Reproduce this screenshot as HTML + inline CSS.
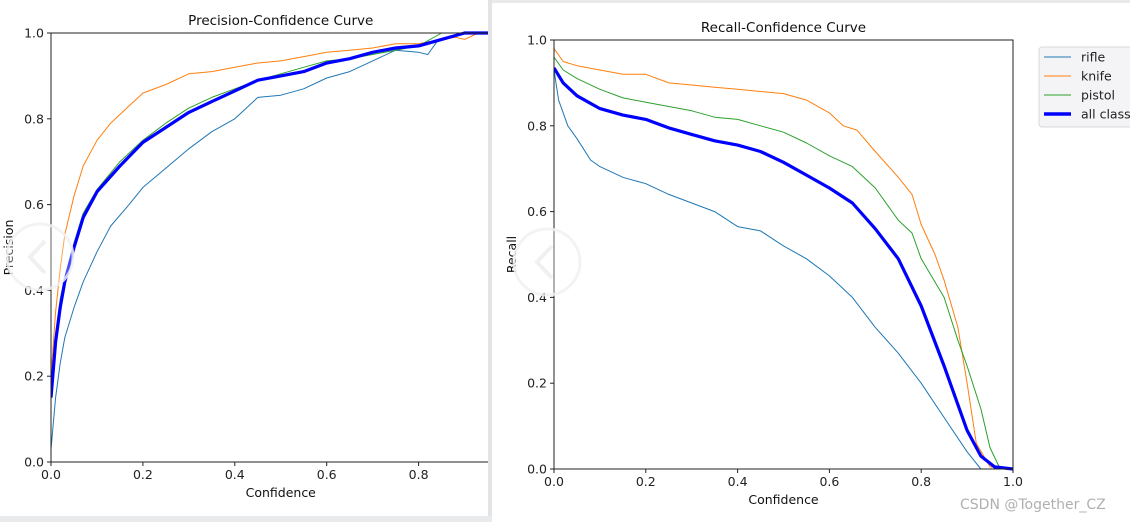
<!DOCTYPE html>
<html><head><meta charset="utf-8"><style>
body{margin:0;width:1130px;height:522px;overflow:hidden;background:#e9eaec;font-family:"DejaVu Sans","Liberation Sans",sans-serif}
svg{position:absolute;left:0;top:0}
</style></head><body>
<svg id="c" width="1130" height="522"></svg>
<script>
const confP=[0,0.01,0.02,0.03,0.05,0.07,0.1,0.15,0.2,0.25,0.3,0.35,0.4,0.45,0.5,0.55,0.6,0.65,0.7,0.75,0.8,0.85,0.9,1];
const precAll=[0.15,0.28,0.36,0.42,0.5,0.57,0.63,0.69,0.745,0.78,0.815,0.84,0.865,0.89,0.9,0.91,0.93,0.94,0.955,0.965,0.97,0.985,1,1];
const precPistol=[0.15,0.3,0.38,0.43,0.51,0.58,0.635,0.7,0.75,0.79,0.825,0.85,0.87,0.89,0.905,0.92,0.935,0.94,0.95,0.96,0.97,1,1,1];
const confK=[0,0.01,0.02,0.03,0.05,0.07,0.1,0.13,0.17,0.2,0.25,0.3,0.35,0.4,0.45,0.5,0.55,0.6,0.65,0.7,0.75,0.8,0.85,0.88,0.9,0.93,1];
const precKnife=[0.2,0.35,0.45,0.53,0.62,0.69,0.75,0.79,0.83,0.86,0.88,0.905,0.91,0.92,0.93,0.935,0.945,0.955,0.96,0.965,0.975,0.975,0.985,0.99,0.985,1,1];
const confR=[0,0.01,0.02,0.03,0.05,0.07,0.1,0.13,0.17,0.2,0.25,0.3,0.35,0.4,0.45,0.5,0.55,0.6,0.65,0.7,0.75,0.8,0.82,0.84,0.87,0.9,1];
const precRifle=[0.03,0.15,0.23,0.29,0.36,0.42,0.49,0.55,0.6,0.64,0.685,0.73,0.77,0.8,0.85,0.855,0.87,0.895,0.91,0.935,0.96,0.955,0.95,0.98,0.99,1,1];

const rcRifleX=[0,0.01,0.03,0.05,0.08,0.1,0.15,0.2,0.25,0.3,0.35,0.4,0.45,0.5,0.55,0.6,0.65,0.7,0.75,0.8,0.85,0.9,0.93,1];
const recRifle=[0.93,0.86,0.8,0.77,0.72,0.705,0.68,0.665,0.64,0.62,0.6,0.565,0.555,0.52,0.49,0.45,0.4,0.33,0.27,0.2,0.12,0.04,0,0];
const rcKnifeX=[0,0.02,0.05,0.1,0.15,0.2,0.25,0.3,0.35,0.4,0.45,0.5,0.55,0.6,0.63,0.66,0.7,0.75,0.78,0.8,0.83,0.85,0.88,0.9,0.92,0.95,1];
const recKnife=[0.98,0.95,0.94,0.93,0.92,0.92,0.9,0.895,0.89,0.885,0.88,0.875,0.86,0.83,0.8,0.79,0.74,0.68,0.64,0.57,0.5,0.44,0.33,0.2,0.06,0.005,0];
const rcPistolX=[0,0.02,0.05,0.1,0.15,0.2,0.25,0.3,0.35,0.4,0.45,0.5,0.55,0.6,0.65,0.7,0.75,0.78,0.8,0.85,0.88,0.9,0.93,0.95,0.97,1];
const recPistol=[0.96,0.93,0.91,0.885,0.865,0.855,0.845,0.835,0.82,0.815,0.8,0.785,0.76,0.73,0.705,0.655,0.58,0.55,0.49,0.4,0.3,0.24,0.14,0.05,0.005,0];
const rcAllX=[0,0.02,0.05,0.1,0.15,0.2,0.25,0.3,0.35,0.4,0.45,0.5,0.55,0.6,0.65,0.7,0.75,0.8,0.85,0.9,0.93,0.96,1];
const recAll=[0.935,0.9,0.87,0.84,0.825,0.815,0.795,0.78,0.765,0.755,0.74,0.715,0.685,0.655,0.62,0.56,0.49,0.38,0.24,0.09,0.03,0.005,0];
const ticks=["0.0","0.2","0.4","0.6","0.8","1.0"];

const NS="http://www.w3.org/2000/svg";
const svg=document.getElementById('c');
function el(t,a,p){const e=document.createElementNS(NS,t);for(const k in a)e.setAttribute(k,a[k]);(p||svg).appendChild(e);return e;}
function txt(s,a,p){const e=el('text',a,p);e.textContent=s;return e;}

// panels
const lp=el('rect',{x:0,y:0,width:492,height:516,fill:'#fff'});


const rp=el('rect',{x:492,y:3,width:638,height:519,fill:'#fff'});


el('rect',{x:488,y:0,width:4,height:516,fill:'#e3e4e6'});

function chart(o){
  const g=el('g',{});
  
  
  const X=v=>o.x0+v*(o.x1-o.x0), Y=v=>o.y0-v*(o.y0-o.y1);
  const cp=el('clipPath',{id:o.name+'-clip'},g);
  el('rect',{x:o.x0,y:o.y1-3,width:Math.min(o.x1,o.clipR)-o.x0,height:o.y0-o.y1+6},cp);
  const series=el('g',{'clip-path':'url(#'+o.name+'-clip)'},g);
  o.series.forEach(s=>{
    const d=s.x.map((v,i)=>(i?'L':'M')+X(v).toFixed(1)+','+Y(s.y[i]).toFixed(1)).join('');
    const p=el('path',{d:d,fill:'none',stroke:s.c,'stroke-width':s.w,'stroke-linejoin':'round'},series);
    
    
  });
  const fr=el('path',{d:`M${o.x0},${o.y1}L${o.x0},${o.y0}L${Math.min(o.x1,o.clipR)},${o.y0}`+(o.x1<o.clipR?`L${o.x1},${o.y1}Z`:`M${o.x0},${o.y1}L${o.clipR},${o.y1}`),fill:'none',stroke:'#222','stroke-width':1},g);
  
  
  ticks.forEach((t,i)=>{
    const v=i*0.2;
    if(X(v)<=o.clipR){
      el('line',{x1:X(v),x2:X(v),y1:o.y0,y2:o.y0+4,stroke:'#222'},g);
      const tl=txt(t,{x:X(v),y:o.y0+17,'font-size':12.5,'text-anchor':'middle',fill:'#222'},g);
      
      
    }
    el('line',{x1:o.x0-4,x2:o.x0,y1:Y(v),y2:Y(v),stroke:'#222'},g);
    const yl=txt(t,{x:o.x0-7,y:Y(v)+4.5,'font-size':12.5,'text-anchor':'end',fill:'#222'},g);
    
    
  });
  const tt=txt(o.title,{x:(o.x0+o.x1)/2,y:o.y1-8,'font-size':13.5,'text-anchor':'middle',fill:'#111'},g);
  
  
  const xt=txt('Confidence',{x:(o.x0+o.x1)/2,y:o.y0+35,'font-size':12.5,'text-anchor':'middle',fill:'#111'},g);
  
  
  const yc=(o.y0+o.y1)/2, yx=o.x0-38;
  const yt=txt(o.ylab,{x:yx,y:yc,'font-size':12.5,'text-anchor':'middle',fill:'#111',transform:`rotate(-90 ${yx} ${yc})`},g);
  
  
}
chart({name:'precision-chart',title:'Precision-Confidence Curve',ylab:'Precision',x0:51,x1:510.5,y0:462,y1:33,clipR:488,
 series:[{n:'line-rifle',x:confR,y:precRifle,c:'#1f77b4',w:1},{n:'line-knife',x:confK,y:precKnife,c:'#ff7f0e',w:1},
 {n:'line-pistol',x:confP,y:precPistol,c:'#2ca02c',w:1},{n:'line-all-classes',x:confP,y:precAll,c:'#0000ff',w:3.2}]});
chart({name:'recall-chart',title:'Recall-Confidence Curve',ylab:'Recall',x0:554,x1:1013,y0:469,y1:40,clipR:2000,
 series:[{n:'line-rifle',x:rcRifleX,y:recRifle,c:'#1f77b4',w:1},{n:'line-knife',x:rcKnifeX,y:recKnife,c:'#ff7f0e',w:1},
 {n:'line-pistol',x:rcPistolX,y:recPistol,c:'#2ca02c',w:1},{n:'line-all-classes',x:rcAllX,y:recAll,c:'#0000ff',w:3.2}]});

// legend
const lg=el('g',{});


el('rect',{x:1039,y:47,width:100,height:80,rx:3,fill:'#f4f4f6',stroke:'#d8d8dc'},lg);
[['rifle','#1f77b4',1],['knife','#ff7f0e',1],['pistol','#2ca02c',1],['all classes','#0000ff',3.5]].forEach((e,i)=>{
  const y=57+i*19;
  const ent=el('g',{},lg);
  
  
  el('line',{x1:1044,x2:1071,y1:y,y2:y,stroke:e[1],'stroke-width':e[2]},ent);
  txt(e[0],{x:1081,y:y+4.5,'font-size':12.5,fill:'#222'},ent);
});

// carousel overlays
[[40,257],[547,262]].forEach((c,i)=>{
  const g=el('g',{opacity:0.85});
  
  
  el('circle',{cx:c[0],cy:c[1],r:33,fill:'rgba(255,255,255,0.35)',stroke:'#f2f2f2','stroke-width':3},g);
  el('path',{d:`M${c[0]+5},${c[1]-16}L${c[0]-10},${c[1]}L${c[0]+5},${c[1]+16}`,fill:'none',stroke:'#eee','stroke-width':4},g);
});
const wm=txt('CSDN @Together_CZ',{x:960,y:509,'font-size':14,fill:'#b0b0b0'});


</script>
</body></html>
